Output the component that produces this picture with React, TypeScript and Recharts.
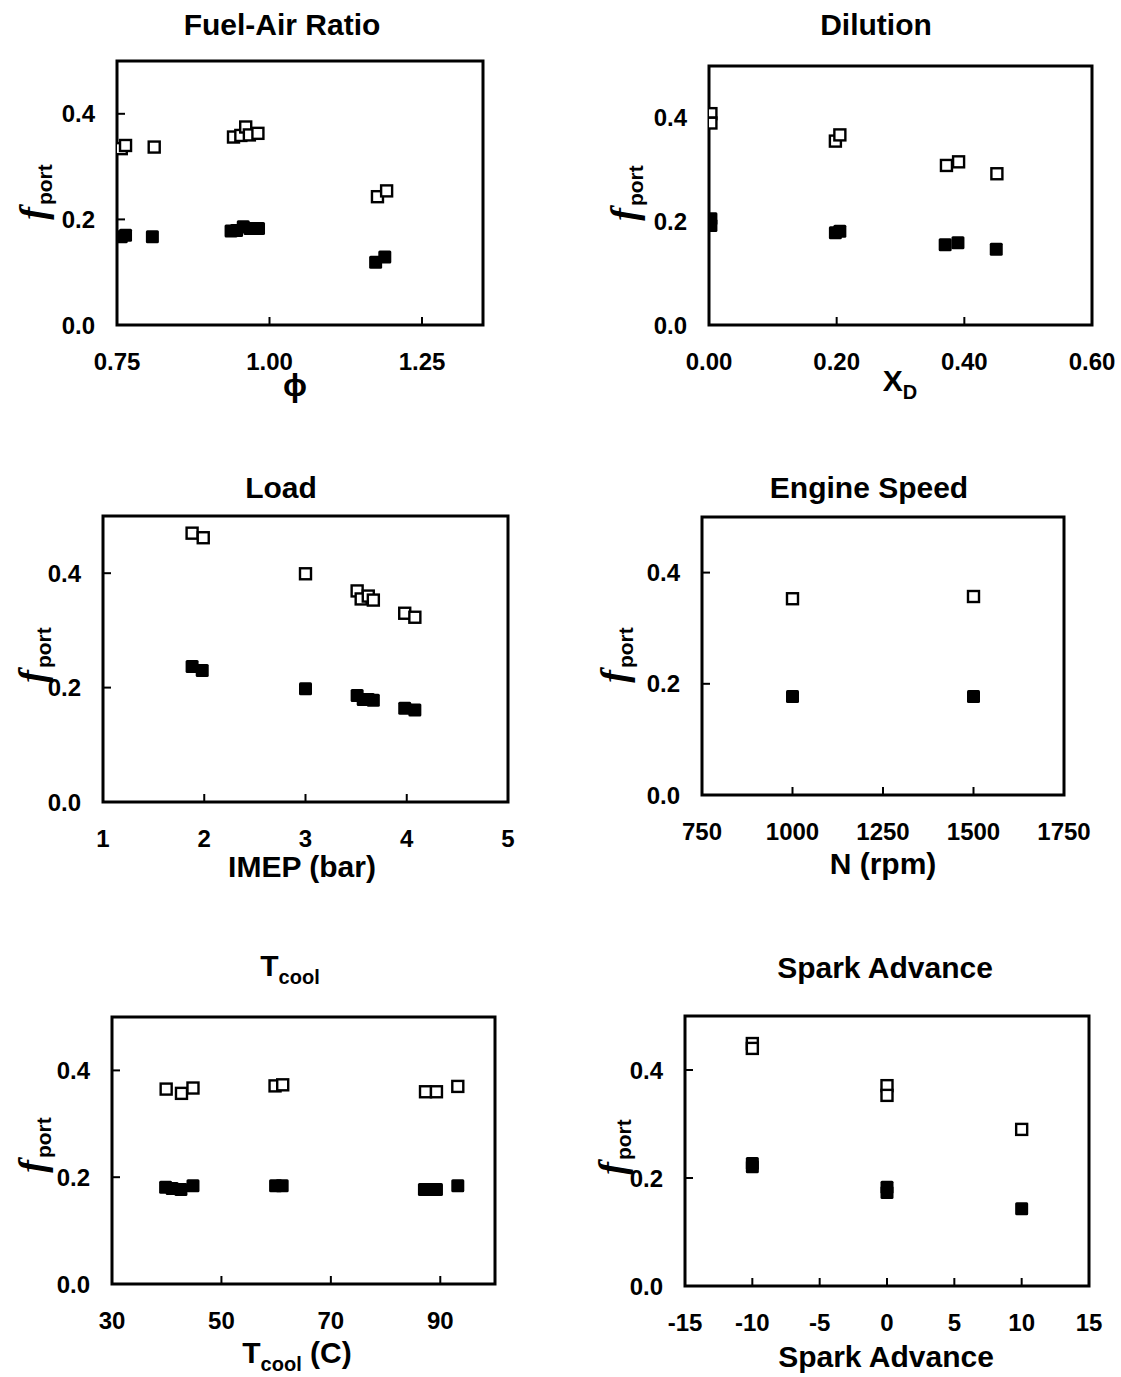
import React from 'react';
import { ScatterChart, Scatter, XAxis, YAxis, ReferenceArea } from 'recharts';

const SANS = '"Liberation Sans", Arial, sans-serif';
const SERIF = '"Liberation Serif", "Times New Roman", serif';

// ---------- Data ----------
// Panel 1: Fuel-Air Ratio (phi)
const phiOpenX = [0.757, 0.764, 0.811, 0.941, 0.953, 0.961, 0.967, 0.981, 1.177, 1.192];
const phiOpenY = [0.334, 0.340, 0.337, 0.356, 0.359, 0.375, 0.360, 0.363, 0.243, 0.254];
const phiFilledX = [0.757, 0.764, 0.808, 0.937, 0.946, 0.957, 0.968, 0.982, 1.174, 1.189];
const phiFilledY = [0.167, 0.170, 0.167, 0.178, 0.179, 0.186, 0.183, 0.183, 0.119, 0.129];
const phiTicks = [0.75, 1.0, 1.25];

// Panel 2: Dilution (X_D)
const dilOpenX = [0.003, 0.003, 0.198, 0.205, 0.372, 0.391, 0.451];
const dilOpenY = [0.408, 0.390, 0.355, 0.367, 0.308, 0.315, 0.292];
const dilFilledX = [0.003, 0.003, 0.198, 0.205, 0.370, 0.390, 0.450];
const dilFilledY = [0.205, 0.192, 0.178, 0.181, 0.155, 0.159, 0.146];
const dilTicks = [0, 0.2, 0.4, 0.6];

// Panel 3: Load (IMEP)
const loadOpenX = [1.88, 1.99, 3.0, 3.51, 3.55, 3.62, 3.67, 3.98, 4.08];
const loadOpenY = [0.470, 0.462, 0.399, 0.369, 0.355, 0.360, 0.353, 0.330, 0.323];
const loadFilledX = [1.88, 1.98, 3.0, 3.51, 3.57, 3.62, 3.67, 3.98, 4.08];
const loadFilledY = [0.237, 0.230, 0.198, 0.186, 0.179, 0.179, 0.178, 0.164, 0.161];
const loadTicks = [1, 2, 3, 4, 5];

// Panel 4: Engine Speed (N)
const spdOpenX = [1000, 1500];
const spdOpenY = [0.353, 0.357];
const spdFilledX = [1000, 1500];
const spdFilledY = [0.177, 0.177];
const spdTicks = [750, 1000, 1250, 1500, 1750];

// Panel 5: Tcool
const tcOpenX = [39.9, 42.7, 44.8, 59.8, 61.2, 87.3, 89.3, 93.2];
const tcOpenY = [0.365, 0.357, 0.367, 0.371, 0.373, 0.360, 0.360, 0.370];
const tcFilledX = [39.8, 41.0, 42.6, 44.8, 59.9, 61.1, 87.1, 88.2, 89.3, 93.2];
const tcFilledY = [0.181, 0.179, 0.177, 0.184, 0.184, 0.184, 0.177, 0.177, 0.177, 0.184];
const tcTicks = [30, 50, 70, 90];

// Panel 6: Spark Advance
const saOpenX = [-10, -10, 0, 0, 10];
const saOpenY = [0.449, 0.440, 0.371, 0.353, 0.290];
const saFilledX = [-10, -10, 0, 0, 10];
const saFilledY = [0.227, 0.221, 0.183, 0.173, 0.143];
const saTicks = [-15, -10, -5, 0, 5, 10, 15];

const yTicks = [0, 0.2, 0.4];
const yTickLabels = ['0.0', '0.2', '0.4'];

// ---------- Markers ----------
const OpenSq = (p: any) => (
  <rect x={p.cx - 5.5} y={p.cy - 5.5} width={11} height={11} fill="#fff" stroke="#000" strokeWidth={2.4} />
);
const FilledSq = (p: any) => (
  <rect x={p.cx - 6.5} y={p.cy - 6.5} width={13} height={13} rx={1.5} fill="#000" stroke="none" />
);

const zip = (xs: number[], ys: number[]) => xs.map((x, i) => ({ x, y: ys[i] }));

type Box = { l: number; r: number; t: number; b: number };

const YW = 90;
const XH = 60;
const PAD = 6;
const PAD_R = 45;

function Panel(props: {
  box: Box;
  domain: [number, number];
  ticks: number[];
  fmt: (v: number) => string;
  openX: number[];
  openY: number[];
  filledX: number[];
  filledY: number[];
}) {
  const { box, domain, ticks, fmt } = props;
  const w = box.r - box.l + YW + PAD_R;
  const h = box.b - box.t + XH + PAD;
  const open = zip(props.openX, props.openY);
  const filled = zip(props.filledX, props.filledY);

  const XTick = (p: any) => (
    <g>
      <line x1={p.x} y1={p.y} x2={p.x} y2={p.y - 8} stroke="#000" strokeWidth={2} />
      <text x={p.x} y={p.y + 36} textAnchor="middle" dominantBaseline="central" fontFamily={SANS} fontSize={24} fontWeight="bold" fill="#000">
        {fmt(p.payload.value)}
      </text>
    </g>
  );
  const YTick = (p: any) => {
    const idx = yTicks.indexOf(p.payload.value);
    return (
      <g>
        <line x1={p.x} y1={p.y} x2={p.x + 8} y2={p.y} stroke="#000" strokeWidth={2} />
        <text x={p.x - 22} y={p.y} textAnchor="end" dominantBaseline="central" fontFamily={SANS} fontSize={24} fontWeight="bold" fill="#000">
          {idx >= 0 ? yTickLabels[idx] : ''}
        </text>
      </g>
    );
  };

  return (
    <div style={{ position: 'absolute', left: box.l - YW, top: box.t - PAD }}>
      <ScatterChart width={w} height={h} margin={{ top: PAD, right: PAD_R, bottom: 0, left: 0 }}>
        <XAxis
          type="number"
          dataKey="x"
          domain={domain}
          ticks={ticks}
          interval={0}
          allowDataOverflow
          height={XH}
          tickSize={0}
          tickMargin={0}
          axisLine={false}
          tickLine={false}
          tick={XTick}
        />
        <YAxis
          type="number"
          dataKey="y"
          domain={[0, 0.5]}
          ticks={yTicks}
          interval={0}
          allowDataOverflow
          width={YW}
          tickSize={0}
          tickMargin={0}
          axisLine={false}
          tickLine={false}
          tick={YTick}
        />
        <ReferenceArea x1={domain[0]} x2={domain[1]} y1={0} y2={0.5} fill="none" fillOpacity={0} stroke="#000" strokeWidth={3} ifOverflow="visible" />
        <Scatter data={open} shape={OpenSq} isAnimationActive={false} />
        <Scatter data={filled} shape={FilledSq} isAnimationActive={false} />
      </ScatterChart>
    </div>
  );
}

const TextAt = (p: { x: number; y: number; size?: number; weight?: string; children: React.ReactNode }) => (
  <div
    style={{
      position: 'absolute',
      left: p.x,
      top: p.y,
      transform: 'translate(-50%, -50%)',
      whiteSpace: 'nowrap',
      fontFamily: SANS,
      fontSize: p.size ?? 30,
      fontWeight: (p.weight as any) ?? 'bold',
      lineHeight: 1,
      color: '#000',
    }}
  >
    {p.children}
  </div>
);

const Sub = (p: { children: React.ReactNode; size?: number }) => (
  <span style={{ fontSize: p.size ?? 20, position: 'relative', top: 8 }}>{p.children}</span>
);

const FPort = (p: { x: number; y: number }) => (
  <div
    style={{
      position: 'absolute',
      left: p.x,
      top: p.y,
      transform: 'translate(-50%, -50%) rotate(-90deg)',
      whiteSpace: 'nowrap',
      lineHeight: 1,
      color: '#000',
    }}
  >
    <span style={{ fontFamily: SERIF, fontStyle: 'italic', fontWeight: 'bold', fontSize: 38 }}>f</span>
    <span style={{ fontFamily: SANS, fontWeight: 'bold', fontSize: 21, position: 'relative', top: 6, marginLeft: 2 }}>port</span>
  </div>
);

const f2 = (v: number) => v.toFixed(2);
const f0 = (v: number) => String(v);

export default function App() {
  return (
    <div style={{ position: 'absolute', left: 0, top: 0, width: 1121, height: 1377, background: '#fff', overflow: 'hidden' }}>
      <Panel box={{ l: 117, r: 483, t: 61, b: 325 }} domain={[0.75, 1.35]} ticks={phiTicks} fmt={f2}
        openX={phiOpenX} openY={phiOpenY} filledX={phiFilledX} filledY={phiFilledY} />
      <Panel box={{ l: 709, r: 1092, t: 66, b: 325 }} domain={[0, 0.6]} ticks={dilTicks} fmt={f2}
        openX={dilOpenX} openY={dilOpenY} filledX={dilFilledX} filledY={dilFilledY} />
      <Panel box={{ l: 103, r: 508, t: 516, b: 802 }} domain={[1, 5]} ticks={loadTicks} fmt={f0}
        openX={loadOpenX} openY={loadOpenY} filledX={loadFilledX} filledY={loadFilledY} />
      <Panel box={{ l: 702, r: 1064, t: 517, b: 795 }} domain={[750, 1750]} ticks={spdTicks} fmt={f0}
        openX={spdOpenX} openY={spdOpenY} filledX={spdFilledX} filledY={spdFilledY} />
      <Panel box={{ l: 112, r: 495, t: 1017, b: 1284 }} domain={[30, 100]} ticks={tcTicks} fmt={f0}
        openX={tcOpenX} openY={tcOpenY} filledX={tcFilledX} filledY={tcFilledY} />
      <Panel box={{ l: 685, r: 1089, t: 1016, b: 1286 }} domain={[-15, 15]} ticks={saTicks} fmt={f0}
        openX={saOpenX} openY={saOpenY} filledX={saFilledX} filledY={saFilledY} />

      {/* Titles */}
      <TextAt x={282} y={25}>Fuel-Air Ratio</TextAt>
      <TextAt x={876} y={25}>Dilution</TextAt>
      <TextAt x={281} y={488}>Load</TextAt>
      <TextAt x={869} y={488}>Engine Speed</TextAt>
      <TextAt x={290} y={966}>T<Sub>cool</Sub></TextAt>
      <TextAt x={885} y={968}>Spark Advance</TextAt>

      {/* X axis labels */}
      <TextAt x={295} y={385} size={32}>ϕ</TextAt>
      <TextAt x={900} y={381}>X<Sub>D</Sub></TextAt>
      <TextAt x={302} y={867}>IMEP (bar)</TextAt>
      <TextAt x={883} y={864}>N (rpm)</TextAt>
      <TextAt x={297} y={1353}>T<Sub>cool</Sub> (C)</TextAt>
      <TextAt x={886} y={1357}>Spark Advance</TextAt>

      {/* Y axis labels */}
      <FPort x={33} y={192} />
      <FPort x={624} y={193} />
      <FPort x={32} y={655} />
      <FPort x={614} y={655} />
      <FPort x={32} y={1145} />
      <FPort x={612} y={1147} />
    </div>
  );
}
